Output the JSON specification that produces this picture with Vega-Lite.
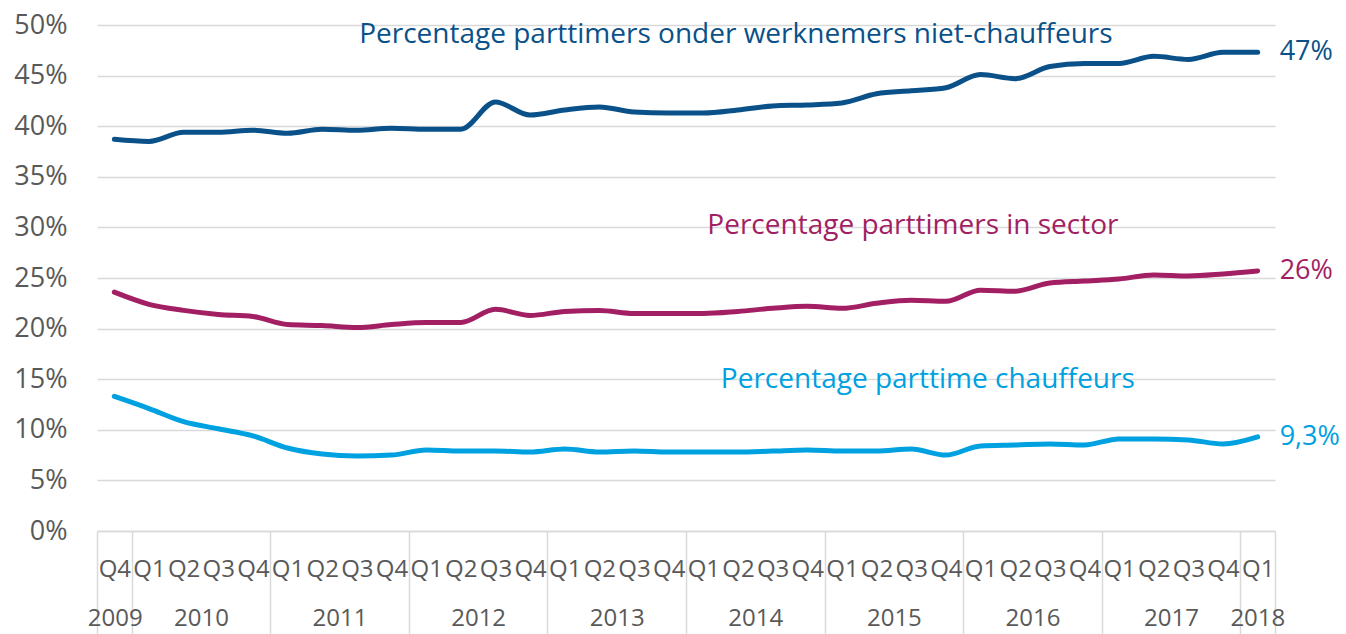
{
  "$schema": "https://vega.github.io/schema/vega-lite/v6.json",
  "width": 1178,
  "height": 506,
  "autosize": {"type": "none"},
  "padding": {"left": 97, "top": 25, "right": 71, "bottom": 103},
  "background": "white",
  "config": {"view": {"stroke": null}, "font": "Open Sans"},
  "resolve": {"scale": {"x": "independent"}, "axis": {"x": "independent"}},
  "datasets": {
    "reeksen": [
      {"i":0,"s":"Niet-chauffeurs","v":38.7},{"i":1,"s":"Niet-chauffeurs","v":38.5},{"i":2,"s":"Niet-chauffeurs","v":39.4},{"i":3,"s":"Niet-chauffeurs","v":39.4},{"i":4,"s":"Niet-chauffeurs","v":39.6},{"i":5,"s":"Niet-chauffeurs","v":39.3},{"i":6,"s":"Niet-chauffeurs","v":39.7},{"i":7,"s":"Niet-chauffeurs","v":39.6},{"i":8,"s":"Niet-chauffeurs","v":39.8},{"i":9,"s":"Niet-chauffeurs","v":39.7},{"i":10,"s":"Niet-chauffeurs","v":39.7},{"i":11,"s":"Niet-chauffeurs","v":42.4},{"i":12,"s":"Niet-chauffeurs","v":41.1},{"i":13,"s":"Niet-chauffeurs","v":41.6},{"i":14,"s":"Niet-chauffeurs","v":41.9},{"i":15,"s":"Niet-chauffeurs","v":41.4},{"i":16,"s":"Niet-chauffeurs","v":41.3},{"i":17,"s":"Niet-chauffeurs","v":41.3},{"i":18,"s":"Niet-chauffeurs","v":41.6},{"i":19,"s":"Niet-chauffeurs","v":42.0},{"i":20,"s":"Niet-chauffeurs","v":42.1},{"i":21,"s":"Niet-chauffeurs","v":42.3},{"i":22,"s":"Niet-chauffeurs","v":43.2},{"i":23,"s":"Niet-chauffeurs","v":43.5},{"i":24,"s":"Niet-chauffeurs","v":43.8},{"i":25,"s":"Niet-chauffeurs","v":45.1},{"i":26,"s":"Niet-chauffeurs","v":44.7},{"i":27,"s":"Niet-chauffeurs","v":45.9},{"i":28,"s":"Niet-chauffeurs","v":46.2},{"i":29,"s":"Niet-chauffeurs","v":46.2},{"i":30,"s":"Niet-chauffeurs","v":46.9},{"i":31,"s":"Niet-chauffeurs","v":46.6},{"i":32,"s":"Niet-chauffeurs","v":47.3},{"i":33,"s":"Niet-chauffeurs","v":47.3},
      {"i":0,"s":"Sector","v":23.6},{"i":1,"s":"Sector","v":22.4},{"i":2,"s":"Sector","v":21.8},{"i":3,"s":"Sector","v":21.4},{"i":4,"s":"Sector","v":21.2},{"i":5,"s":"Sector","v":20.4},{"i":6,"s":"Sector","v":20.3},{"i":7,"s":"Sector","v":20.1},{"i":8,"s":"Sector","v":20.4},{"i":9,"s":"Sector","v":20.6},{"i":10,"s":"Sector","v":20.6},{"i":11,"s":"Sector","v":21.9},{"i":12,"s":"Sector","v":21.3},{"i":13,"s":"Sector","v":21.7},{"i":14,"s":"Sector","v":21.8},{"i":15,"s":"Sector","v":21.5},{"i":16,"s":"Sector","v":21.5},{"i":17,"s":"Sector","v":21.5},{"i":18,"s":"Sector","v":21.7},{"i":19,"s":"Sector","v":22.0},{"i":20,"s":"Sector","v":22.2},{"i":21,"s":"Sector","v":22.0},{"i":22,"s":"Sector","v":22.5},{"i":23,"s":"Sector","v":22.8},{"i":24,"s":"Sector","v":22.7},{"i":25,"s":"Sector","v":23.8},{"i":26,"s":"Sector","v":23.7},{"i":27,"s":"Sector","v":24.5},{"i":28,"s":"Sector","v":24.7},{"i":29,"s":"Sector","v":24.9},{"i":30,"s":"Sector","v":25.3},{"i":31,"s":"Sector","v":25.2},{"i":32,"s":"Sector","v":25.4},{"i":33,"s":"Sector","v":25.7},
      {"i":0,"s":"Chauffeurs","v":13.3},{"i":1,"s":"Chauffeurs","v":12.1},{"i":2,"s":"Chauffeurs","v":10.8},{"i":3,"s":"Chauffeurs","v":10.1},{"i":4,"s":"Chauffeurs","v":9.4},{"i":5,"s":"Chauffeurs","v":8.2},{"i":6,"s":"Chauffeurs","v":7.6},{"i":7,"s":"Chauffeurs","v":7.4},{"i":8,"s":"Chauffeurs","v":7.5},{"i":9,"s":"Chauffeurs","v":8.0},{"i":10,"s":"Chauffeurs","v":7.9},{"i":11,"s":"Chauffeurs","v":7.9},{"i":12,"s":"Chauffeurs","v":7.8},{"i":13,"s":"Chauffeurs","v":8.1},{"i":14,"s":"Chauffeurs","v":7.8},{"i":15,"s":"Chauffeurs","v":7.9},{"i":16,"s":"Chauffeurs","v":7.8},{"i":17,"s":"Chauffeurs","v":7.8},{"i":18,"s":"Chauffeurs","v":7.8},{"i":19,"s":"Chauffeurs","v":7.9},{"i":20,"s":"Chauffeurs","v":8.0},{"i":21,"s":"Chauffeurs","v":7.9},{"i":22,"s":"Chauffeurs","v":7.9},{"i":23,"s":"Chauffeurs","v":8.1},{"i":24,"s":"Chauffeurs","v":7.5},{"i":25,"s":"Chauffeurs","v":8.4},{"i":26,"s":"Chauffeurs","v":8.5},{"i":27,"s":"Chauffeurs","v":8.6},{"i":28,"s":"Chauffeurs","v":8.5},{"i":29,"s":"Chauffeurs","v":9.1},{"i":30,"s":"Chauffeurs","v":9.1},{"i":31,"s":"Chauffeurs","v":9.0},{"i":32,"s":"Chauffeurs","v":8.6},{"i":33,"s":"Chauffeurs","v":9.3}
    ],
    "titels": [
      {"s":"Niet-chauffeurs","t":"Percentage parttimers onder werknemers niet-chauffeurs","i":17.94,"v":49.0},
      {"s":"Sector","t":"Percentage parttimers in sector","i":23.05,"v":30.1},
      {"s":"Chauffeurs","t":"Percentage parttime chauffeurs","i":23.48,"v":14.9}
    ],
    "eind": [
      {"s":"Niet-chauffeurs","t":"47%"},
      {"s":"Sector","t":"26%"},
      {"s":"Chauffeurs","t":"9,3%"}
    ]
  },
  "layer": [
    {
      "data": {"name": "reeksen"},
      "mark": {"type": "line", "strokeWidth": 5, "interpolate": "monotone", "strokeCap": "round", "strokeJoin": "round"},
      "encoding": {
        "x": {
          "field": "i", "type": "quantitative",
          "scale": {"domain": [-0.5, 33.5], "nice": false, "zero": false},
          "axis": {
            "orient": "bottom",
            "title": null,
            "values": [0,1,2,3,4,5,6,7,8,9,10,11,12,13,14,15,16,17,18,19,20,21,22,23,24,25,26,27,28,29,30,31,32,33],
            "labelExpr": "'Q' + ((datum.value + 3) % 4 + 1)",
            "grid": false,
            "domain": true, "domainColor": "#d9d9d9", "domainWidth": 1.5,
            "ticks": true, "tickSize": 0, "tickOpacity": 0,
            "labelPadding": 38,
            "labelBaseline": "middle",
            "labelOverlap": false, "labelFlush": false, "labelBound": false,
            "labelFont": "Open Sans", "labelFontSize": 24, "labelColor": "#595959"
          }
        },
        "y": {
          "field": "v", "type": "quantitative",
          "scale": {"domain": [0, 50], "nice": false},
          "axis": {
            "title": null,
            "values": [0, 5, 10, 15, 20, 25, 30, 35, 40, 45, 50],
            "labelExpr": "datum.value + '%'",
            "grid": true, "gridColor": "#d9d9d9", "gridWidth": 1.5,
            "domain": false, "ticks": false,
            "labelPadding": 30,
            "labelFont": "Open Sans", "labelFontSize": 27, "labelColor": "#595959"
          }
        },
        "color": {
          "field": "s", "type": "nominal",
          "scale": {"domain": ["Niet-chauffeurs", "Sector", "Chauffeurs"], "range": ["#0A5189", "#A21F63", "#00A1E1"]},
          "legend": null
        }
      }
    },
    {
      "data": {"name": "titels"},
      "mark": {"type": "text", "font": "Open Sans", "fontSize": 28, "align": "center", "baseline": "middle"},
      "encoding": {
        "x": {
          "field": "i", "type": "quantitative",
          "scale": {"domain": [-0.5, 33.5], "nice": false, "zero": false},
          "axis": {
            "orient": "bottom",
            "title": null,
            "values": [-0.5, 0.5, 4.5, 8.5, 12.5, 16.5, 20.5, 24.5, 28.5, 32.5, 33.5],
            "labels": false,
            "grid": false, "domain": false,
            "ticks": true, "tickSize": 103, "tickColor": "#d9d9d9", "tickWidth": 1.5
          }
        },
        "y": {"field": "v", "type": "quantitative"},
        "text": {"field": "t"},
        "color": {"field": "s", "type": "nominal", "legend": null}
      }
    },
    {
      "data": {"name": "reeksen"},
      "transform": [
        {"filter": "datum.i == 33"},
        {"lookup": "s", "from": {"data": {"name": "eind"}, "key": "s", "fields": ["t"]}}
      ],
      "mark": {"type": "text", "font": "Open Sans", "fontSize": 27, "align": "left", "baseline": "middle", "dx": 22},
      "encoding": {
        "x": {
          "field": "i", "type": "quantitative",
          "scale": {"domain": [-0.5, 33.5], "nice": false, "zero": false},
          "axis": {
            "orient": "bottom",
            "title": null,
            "values": [0.01, 2.5, 6.5, 10.5, 14.5, 18.5, 22.5, 26.5, 30.5, 32.99],
            "labelExpr": "datum.value == 0.01 ? '2009' : datum.value == 32.99 ? '2018' : '' + (2010 + (datum.value - 2.5) / 4)",
            "grid": false, "domain": false,
            "ticks": true, "tickSize": 0, "tickOpacity": 0,
            "labelPadding": 87,
            "labelBaseline": "middle",
            "labelOverlap": false, "labelFlush": false, "labelBound": false,
            "labelFont": "Open Sans", "labelFontSize": 24, "labelColor": "#595959"
          }
        },
        "y": {"field": "v", "type": "quantitative"},
        "text": {"field": "t"},
        "color": {"field": "s", "type": "nominal", "legend": null}
      }
    }
  ]
}
